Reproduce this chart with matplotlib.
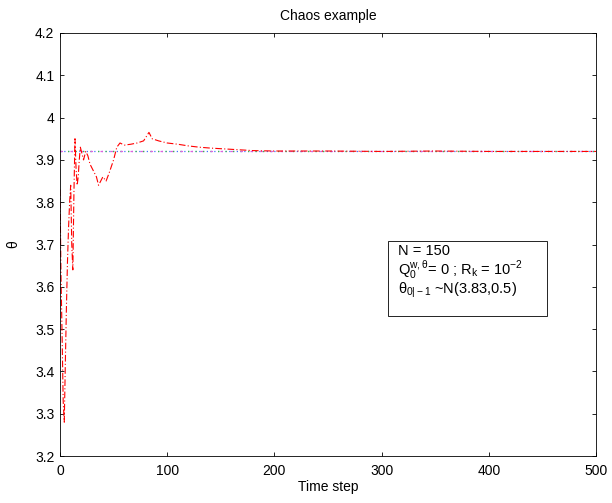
import matplotlib
matplotlib.use("Agg")
import matplotlib.pyplot as plt
from matplotlib.patches import Rectangle
from matplotlib.ticker import FuncFormatter

plt.rcParams['font.family'] = ['Liberation Sans', 'DejaVu Sans']
plt.rcParams['mathtext.fontset'] = 'custom'
plt.rcParams['mathtext.rm'] = 'Liberation Sans'
plt.rcParams['mathtext.it'] = 'Liberation Sans'
plt.rcParams['mathtext.sf'] = 'Liberation Sans'

# parameter estimate over time (step, value)
t_est = [0, 1, 2, 3, 4, 5, 6, 7, 8, 9, 10, 11, 12, 13, 14, 15, 16, 17, 18, 19,
         20, 22, 24, 26, 28, 30, 32, 34, 36, 38, 40, 43, 46, 50, 53, 56, 60, 66,
         72, 78, 83, 86, 92, 100, 110, 120, 130, 140, 160, 180, 200, 250, 300,
         350, 400, 450, 500]
theta_est = [3.83, 3.62, 3.48, 3.33, 3.28, 3.42, 3.55, 3.66, 3.74, 3.80, 3.84,
             3.70, 3.64, 3.82, 3.95, 3.88, 3.84, 3.86, 3.90, 3.93, 3.92, 3.90,
             3.92, 3.91, 3.89, 3.88, 3.87, 3.86, 3.84, 3.85, 3.86, 3.85, 3.87,
             3.90, 3.93, 3.94, 3.935, 3.937, 3.94, 3.945, 3.965, 3.95, 3.945,
             3.94, 3.937, 3.933, 3.93, 3.928, 3.925, 3.922, 3.921, 3.921, 3.92,
             3.921, 3.92, 3.92, 3.92]

# true parameter value
theta_true = 3.92
t_range = [0, 500]

fig = plt.figure(figsize=(6.12, 5.03), dpi=100)
ax = fig.add_axes([0.098, 0.0934, 0.8758, 0.841])

ax.plot(t_range, [theta_true, theta_true], color='#4070ff', lw=0.9, dashes=(1, 2))
ax.plot(t_range, [theta_true, theta_true], color='#40c040', lw=0.9, dashes=(1, 5), dash_capstyle='butt')
ax.plot(t_range, [theta_true, theta_true], color='#e060e0', lw=0.9, dashes=(2, 6))
ax.plot(t_est, theta_est, color='red', lw=0.8, dashes=(6, 2, 1, 2))

ax.set_xlim(0, 500)
ax.set_ylim(3.2, 4.2)
ax.set_xticks(range(0, 501, 100))
ax.set_yticks([3.2 + 0.1 * i for i in range(11)])
ax.yaxis.set_major_formatter(FuncFormatter(lambda v, p: ('%.1f' % v).rstrip('0').rstrip('.')))
ax.tick_params(direction='in', top=True, right=True, labelsize=10, length=3, width=0.6)
ax.tick_params(axis='x', pad=6)
ax.tick_params(axis='y', pad=4)
for s in ax.spines.values():
    s.set_linewidth(0.6)

ax.set_title('Chaos example', fontsize=10, pad=9)
ax.set_xlabel('Time step', fontsize=10, labelpad=1)
ax.set_ylabel(r'$\theta$', fontsize=10, labelpad=10)

# info box
ax.add_patch(Rectangle((0.612, 0.331), 0.297, 0.177, transform=ax.transAxes,
                       fc='white', ec='black', lw=0.6, zorder=3))
ax.text(0.63, 0.476, 'N = 150', transform=ax.transAxes, fontsize=10.5,
        va='baseline', zorder=4)
ax.text(0.63, 0.428, r'$\mathregular{Q_0^{w,\theta}}$= 0 ; $\mathregular{R_k}$ = $\mathregular{10^{-2}}$',
        transform=ax.transAxes, fontsize=10.5, va='baseline', zorder=4)
ax.text(0.63, 0.384, r'$\mathregular{\theta_{0|-1}}$ ~N(3.83,0.5)',
        transform=ax.transAxes, fontsize=10.5, va='baseline', zorder=4)

fig.savefig('out.png', dpi=100)
